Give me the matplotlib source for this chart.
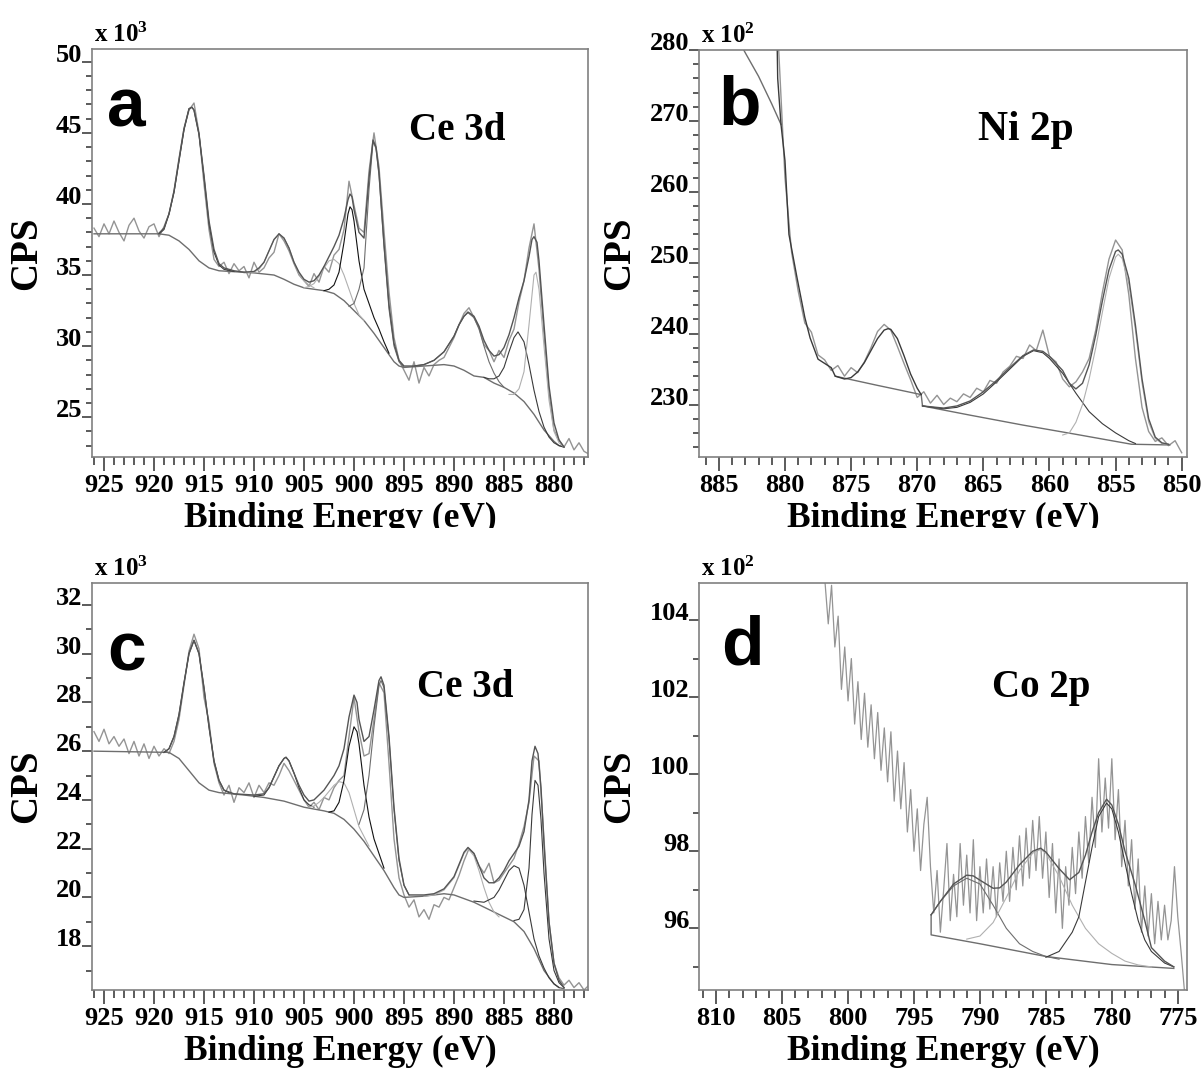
import numpy as np
import matplotlib
matplotlib.use("Agg")
import matplotlib.pyplot as plt
from matplotlib.patches import Rectangle
from matplotlib.ticker import MultipleLocator

plt.rcParams['font.family'] = ['Liberation Serif', 'DejaVu Serif']
plt.rcParams['font.weight'] = 'bold'
plt.rcParams['mathtext.fontset'] = 'custom'
plt.rcParams['mathtext.rm'] = 'Liberation Serif:bold'
plt.rcParams['mathtext.it'] = 'Liberation Serif:bold'

# ---------------- panel a : Ce 3d (x 10^3 CPS) ----------------
a_energy = np.arange(926.0, 876.4, -0.5)
a_raw = [38.3, 37.7, 38.6, 37.9, 38.8, 38.0, 37.4, 38.5, 39.0, 38.1,
         37.6, 38.4, 38.6, 37.7, 38.4, 39.3, 40.9, 43.2, 45.3, 46.6,
         47.1, 45.0, 41.4, 38.2, 36.1, 35.6, 35.9, 35.1, 35.8, 35.3,
         35.6, 34.8, 35.9, 35.2, 35.5, 36.2, 36.6, 37.9, 37.4, 36.7,
         35.8, 35.0, 34.6, 34.2, 35.1, 34.5, 35.6, 35.2, 36.4, 36.8,
         38.2, 41.6, 39.9, 38.3, 38.0, 42.3, 45.0, 42.6, 38.1, 33.8,
         30.6, 29.0, 28.3, 27.6, 28.9, 27.4, 28.5, 27.9, 28.7, 29.0,
         29.2, 29.9, 30.6, 31.5, 32.3, 32.7, 32.0, 31.3, 30.1, 29.7,
         28.9, 29.7, 29.2, 30.4, 31.2, 33.1, 34.6, 36.9, 38.6, 35.4,
         30.8, 26.7, 24.1, 23.4, 22.9, 23.5, 22.7, 23.2, 22.6, 22.4]

a_bg_e = [926.0, 919.5, 918.5, 917.5, 916.5, 915.5, 914.5, 913.5, 910.0, 908.0,
          907.0, 906.0, 905.0, 904.0, 903.0, 902.0, 901.0, 900.0, 899.0, 898.0,
          897.0, 896.0, 895.5, 895.0, 893.0, 891.0, 890.0, 889.0, 888.0, 887.0,
          886.0, 885.0, 884.0, 883.0, 882.0, 881.0, 880.0, 879.5, 879.0]
a_bg_y = [37.9, 37.9, 37.8, 37.4, 36.8, 36.0, 35.5, 35.3, 35.15, 35.0,
          34.7, 34.35, 34.1, 34.0, 33.9, 33.7, 33.2, 32.5, 31.8, 30.9,
          29.9, 28.9, 28.6, 28.5, 28.6, 28.7, 28.6, 28.3, 27.9, 27.8,
          27.4, 27.1, 26.7, 26.1, 25.2, 24.1, 23.3, 23.0, 22.9]

a_env_e = [919.5, 919.0, 918.5, 918.0, 917.5, 917.0, 916.5, 916.2, 916.0, 915.5,
           915.0, 914.5, 914.0, 913.5, 913.0, 912.0, 911.0, 910.0, 909.5, 909.0,
           908.5, 908.0, 907.5, 907.0, 906.5, 906.0, 905.5, 905.0, 904.5, 904.0,
           903.5, 903.0, 902.5, 902.0, 901.5, 901.0, 900.6, 900.4, 900.2, 900.0,
           899.5, 899.0, 898.5, 898.1, 897.8, 897.5, 897.0, 896.5, 896.0, 895.5,
           895.0, 894.0, 893.0, 892.0, 891.0, 890.0, 889.5, 889.0, 888.6, 888.0,
           887.5, 887.0, 886.5, 886.0, 885.5, 885.0, 884.5, 884.0, 883.5, 883.0,
           882.5, 882.2, 882.0, 881.7, 881.5, 881.0, 880.5, 880.0, 879.5, 879.0]
a_env_y = [37.95, 38.3, 39.3, 40.9, 43.1, 45.3, 46.7, 46.8, 46.6, 44.9,
           42.0, 38.8, 36.8, 35.8, 35.5, 35.3, 35.2, 35.25, 35.5, 35.9,
           36.7, 37.5, 37.9, 37.6, 36.9, 35.9, 35.2, 34.7, 34.5, 34.6,
           35.0, 35.6, 36.3, 37.0, 37.8, 39.0, 40.3, 40.7, 40.5, 39.6,
           38.0, 37.6, 41.8, 44.5, 44.0, 42.2, 37.2, 32.9, 30.2, 29.0,
           28.6, 28.6, 28.7, 29.0, 29.6, 30.7, 31.5, 32.1, 32.4, 32.1,
           31.4, 30.4, 29.7, 29.3, 29.4, 29.9, 30.8, 32.0, 33.4, 34.6,
           36.3, 37.5, 37.7, 37.3, 36.0, 31.5, 27.2, 24.6, 23.4, 22.9]

a_pk1_e = [919.5, 919.0, 918.5, 918.0, 917.5, 917.0, 916.5, 916.2, 916.0, 915.5,
           915.0, 914.5, 914.0, 913.5, 913.0, 912.0]
a_pk1_y = [37.9, 38.2, 39.3, 40.8, 43.0, 45.2, 46.7, 46.8, 46.6, 44.9,
           41.9, 38.6, 36.6, 35.7, 35.4, 35.25]
a_pk2_e = [911.0, 910.0, 909.5, 909.0, 908.5, 908.0, 907.5, 907.0, 906.5, 906.0,
           905.5, 905.0, 904.5, 904.0]
a_pk2_y = [35.15, 35.2, 35.4, 35.9, 36.7, 37.5, 37.85, 37.6, 36.9, 35.9,
           35.1, 34.6, 34.3, 34.1]
a_pk3_e = [905.0, 904.5, 904.0, 903.5, 903.0, 902.5, 902.0, 901.5, 901.0, 900.5,
           900.0, 899.5, 899.0]
a_pk3_y = [34.1, 34.2, 34.4, 34.9, 35.5, 36.0, 36.1, 35.8, 35.0, 34.0,
           33.0, 32.2, 31.8]
a_pk4_e = [903.0, 902.5, 902.0, 901.5, 901.0, 900.6, 900.4, 900.2, 900.0, 899.5,
           899.0, 898.5, 898.0, 897.5, 897.0, 896.5]
a_pk4_y = [33.9, 34.0, 34.3, 35.2, 37.3, 39.3, 39.8, 39.6, 38.8, 36.0,
           34.0, 33.0, 32.0, 31.2, 30.3, 29.5]
a_pk5_e = [900.5, 900.0, 899.5, 899.0, 898.5, 898.1, 897.8, 897.5, 897.0, 896.5,
           896.0, 895.5, 895.0]
a_pk5_y = [32.8, 33.0, 34.0, 35.5, 41.0, 44.4, 43.9, 42.0, 37.0, 32.6,
           30.0, 28.9, 28.5]
a_pk6_e = [894.0, 893.0, 892.0, 891.0, 890.0, 889.5, 889.0, 888.6, 888.0, 887.5,
           887.0, 886.5, 886.0, 885.5, 885.0]
a_pk6_y = [28.6, 28.7, 29.0, 29.6, 30.7, 31.5, 32.1, 32.35, 32.0, 31.2,
           30.0, 28.9, 28.1, 27.5, 27.1]
a_pk7_e = [887.0, 886.5, 886.0, 885.5, 885.0, 884.5, 884.0, 883.6, 883.0, 882.5,
           882.0, 881.5, 881.0, 880.5, 880.0, 879.5, 879.0]
a_pk7_y = [27.8, 27.7, 27.7, 27.9, 28.5, 29.6, 30.6, 31.0, 30.3, 28.7,
           26.9, 25.4, 24.3, 23.6, 23.2, 23.0, 22.9]
a_pk8_e = [884.5, 884.0, 883.5, 883.0, 882.5, 882.0, 881.8, 881.5, 881.0, 880.5,
           880.0, 879.5, 879.0]
a_pk8_y = [26.6, 26.6, 27.0, 28.2, 31.5, 35.0, 35.2, 34.0, 30.0, 26.2,
           24.0, 23.2, 22.9]

# ---------------- panel b : Ni 2p (x 10^2 CPS) ----------------
b_energy = np.arange(881.0, 849.9, -0.5)
b_raw = [300.0, 281.0, 262.0, 251.5, 246.0, 241.5, 240.2, 237.0, 236.3, 234.8,
         235.5, 234.0, 235.2, 234.5, 236.0, 238.0, 240.3, 241.3, 240.5, 238.2,
         235.8, 233.5, 231.0, 231.8, 230.2, 231.3, 230.0, 230.9, 230.4, 231.5,
         231.0, 232.3, 231.8, 233.4, 233.0, 234.6, 235.4, 236.8, 236.5, 238.4,
         237.6, 240.5, 236.8, 236.0, 233.6, 232.5, 233.2, 234.6, 236.5, 240.5,
         245.8, 250.5, 253.2, 251.8, 245.5, 236.5, 229.6, 226.2, 224.8, 225.3,
         224.2, 224.9, 223.2]

b_tail_e = [883.7, 883.0, 882.0, 881.0, 880.3]
b_tail_y = [282.0, 279.6, 276.3, 272.4, 269.5]

b_env1_e = [880.6, 880.55, 880.3, 880.0, 879.7, 879.1, 878.5, 878.1, 877.5, 876.5,
            876.2, 875.5, 875.0, 874.5, 874.0, 873.5, 873.0, 872.5, 872.2, 872.0,
            871.5, 871.0, 870.5, 870.0, 869.7]
b_env1_y = [282.0, 276.0, 269.5, 264.4, 254.0, 248.0, 242.3, 239.4, 236.4, 235.2,
            234.0, 233.6, 233.8, 234.6, 235.9, 237.6, 239.3, 240.5, 240.7, 240.6,
            239.3, 236.9, 234.3, 232.3, 231.4]
b_bg1_e = [876.2, 873.0, 869.7]
b_bg1_y = [234.0, 232.7, 231.4]
b_bg2_e = [869.7, 869.6, 866.0, 862.0, 858.0, 855.0, 853.8, 850.9]
b_bg2_y = [231.4, 229.8, 228.5, 227.1, 225.8, 224.8, 224.4, 224.3]

b_pk1_e = [869.6, 868.0, 867.0, 866.0, 865.0, 864.0, 863.0, 862.0, 861.2, 860.5,
           860.0, 859.0, 858.0, 857.0, 856.0, 855.0, 854.0, 853.5]
b_pk1_y = [229.8, 229.4, 229.6, 230.3, 231.5, 233.2, 235.0, 236.8, 237.6, 237.3,
           236.5, 234.4, 231.6, 229.0, 227.3, 226.0, 224.9, 224.5]
b_pk2_e = [859.0, 858.5, 858.0, 857.5, 857.0, 856.5, 856.0, 855.5, 855.0, 854.8,
           854.5, 854.0, 853.5, 853.0, 852.5, 852.0, 851.5, 851.0]
b_pk2_y = [225.7, 226.0, 227.5, 230.0, 233.6, 238.0, 243.0, 247.8, 250.8, 251.2,
           250.6, 247.0, 240.5, 233.0, 227.5, 225.2, 224.5, 224.4]
b_env2_e = [869.6, 868.0, 867.0, 866.0, 865.0, 864.0, 863.0, 862.0, 861.2, 860.5,
            860.0, 859.0, 858.5, 858.0, 857.5, 857.0, 856.5, 856.0, 855.5, 855.0,
            854.8, 854.5, 854.0, 853.5, 853.0, 852.5, 852.0, 851.5, 851.0]
b_env2_y = [229.8, 229.5, 229.8, 230.5, 231.8, 233.4, 235.2, 236.9, 237.7, 237.5,
            236.8, 234.8, 233.0, 232.2, 233.0, 235.6, 239.8, 244.6, 249.0, 251.6,
            251.8, 251.2, 247.8, 241.2, 233.6, 228.0, 225.4, 224.6, 224.4]

# ---------------- panel c : Ce 3d (x 10^3 CPS) ----------------
c_energy = np.arange(926.0, 876.4, -0.5)
c_raw = [26.8, 26.4, 26.9, 26.3, 26.6, 26.2, 26.5, 25.9, 26.4, 25.8,
         26.3, 25.7, 26.2, 25.8, 26.1, 25.9, 26.4, 27.3, 28.7, 30.1,
         30.8, 30.2, 28.2, 27.2, 25.5, 24.7, 24.2, 24.6, 23.9, 24.5,
         24.3, 24.7, 24.1, 24.6, 24.3, 24.7, 24.6, 25.0, 25.5, 25.2,
         24.8, 24.4, 24.0, 23.7, 23.9, 23.6, 24.1, 24.0, 24.5, 24.8,
         25.0, 26.6, 28.2, 26.8, 25.8, 25.9, 27.3, 28.8, 28.4, 25.5,
         22.4, 20.8, 20.1, 19.6, 19.9, 19.2, 19.5, 19.1, 19.7, 19.6,
         20.0, 19.9, 20.4, 20.9, 21.5, 22.0, 21.8, 21.3, 21.0, 21.4,
         20.6, 20.7, 21.0, 21.3, 21.6, 22.2, 22.9, 23.9, 25.8, 25.6,
         22.4, 19.0, 17.3, 16.7, 16.4, 16.6, 16.3, 16.5, 16.2, 16.4]

c_bg_e = [926.0, 918.5, 917.5, 916.5, 915.5, 914.5, 913.5, 911.0, 909.0, 907.0,
          905.0, 903.0, 902.0, 901.0, 900.0, 899.0, 898.0, 897.0, 896.0, 895.5,
          895.0, 893.0, 891.0, 890.0, 889.0, 888.0, 887.0, 886.0, 885.0, 884.0,
          883.0, 882.0, 881.0, 880.0, 879.5, 879.0]
c_bg_y = [26.0, 25.95, 25.7, 25.2, 24.7, 24.4, 24.3, 24.2, 24.1, 23.95,
          23.7, 23.55, 23.45, 23.2, 22.8, 22.3, 21.7, 21.1, 20.4, 20.1,
          20.0, 20.05, 20.15, 20.1, 19.95, 19.8, 19.6, 19.4, 19.2, 19.0,
          18.6, 17.9, 17.0, 16.45, 16.3, 16.25]

c_env_e = [919.0, 918.5, 918.0, 917.5, 917.0, 916.5, 916.0, 915.5, 915.0, 914.5,
           914.0, 913.5, 913.0, 912.0, 910.0, 909.0, 908.5, 908.0, 907.5, 907.0,
           906.8, 906.5, 906.0, 905.5, 905.0, 904.5, 904.0, 903.5, 903.0, 902.5,
           902.0, 901.5, 901.0, 900.5, 900.0, 899.7, 899.5, 899.0, 898.5, 898.0,
           897.5, 897.3, 897.0, 896.5, 896.0, 895.5, 895.0, 894.5, 893.0, 892.0,
           891.0, 890.0, 889.5, 889.0, 888.6, 888.0, 887.5, 887.0, 886.5, 886.0,
           885.5, 885.0, 884.5, 884.0, 883.5, 883.0, 882.5, 882.2, 881.9, 881.6,
           881.3, 881.0, 880.5, 880.0, 879.5, 879.0]
c_env_y = [25.95, 26.1, 26.6, 27.5, 28.8, 30.0, 30.55, 30.0, 28.6, 27.0,
           25.6, 24.8, 24.4, 24.25, 24.2, 24.25, 24.5, 24.95, 25.4, 25.7,
           25.75, 25.6, 25.1, 24.6, 24.2, 23.95, 24.0, 24.2, 24.4, 24.7,
           25.0, 25.4, 26.1, 27.4, 28.3, 28.0, 27.3, 26.4, 26.6, 27.7,
           28.9, 29.05, 28.7, 26.6, 23.7, 21.6, 20.5, 20.1, 20.1, 20.15,
           20.35, 20.85, 21.35, 21.85, 22.05, 21.8, 21.3, 20.8, 20.6, 20.6,
           20.8, 21.1, 21.5, 21.8, 22.1, 22.7, 24.0, 25.6, 26.2, 25.9,
           24.5, 22.2, 19.0, 17.3, 16.6, 16.3]

c_pk1_e = [919.0, 918.5, 918.0, 917.5, 917.0, 916.5, 916.0, 915.5, 915.0, 914.5,
           914.0, 913.5, 913.0, 912.5]
c_pk1_y = [25.95, 26.1, 26.6, 27.5, 28.8, 30.0, 30.55, 30.0, 28.6, 27.0,
           25.6, 24.8, 24.4, 24.3]
c_pk2_e = [910.0, 909.0, 908.5, 908.0, 907.5, 907.0, 906.8, 906.5, 906.0, 905.5,
           905.0, 904.5, 904.0]
c_pk2_y = [24.15, 24.2, 24.5, 24.95, 25.4, 25.7, 25.75, 25.6, 25.1, 24.5,
           24.0, 23.8, 23.7]
c_pk3_e = [904.5, 904.0, 903.5, 903.0, 902.5, 902.0, 901.5, 901.0, 900.5, 900.0,
           899.5, 899.0, 898.5]
c_pk3_y = [23.7, 23.75, 23.9, 24.1, 24.35, 24.6, 24.75, 24.7, 24.3, 23.6,
           22.9, 22.5, 22.1]
c_pk4_e = [902.5, 902.0, 901.5, 901.0, 900.5, 900.0, 899.7, 899.5, 899.0, 898.5,
           898.0, 897.5, 897.0]
c_pk4_y = [23.5, 23.55, 23.9, 24.8, 26.2, 27.0, 26.8, 26.3, 24.6, 23.3,
           22.4, 21.8, 21.2]
c_pk5_e = [899.5, 899.0, 898.5, 898.0, 897.5, 897.3, 897.0, 896.5, 896.0, 895.5,
           895.0, 894.5]
c_pk5_y = [23.0, 23.6, 25.0, 27.0, 28.7, 28.9, 28.6, 26.5, 23.6, 21.5,
           20.5, 20.1]
c_pk6_e = [893.0, 892.0, 891.0, 890.0, 889.5, 889.0, 888.6, 888.0, 887.5, 887.0,
           886.5, 886.0, 885.5]
c_pk6_y = [20.05, 20.1, 20.3, 20.8, 21.3, 21.8, 22.0, 21.7, 21.1, 20.4,
           19.8, 19.4, 19.2]
c_pk7_e = [888.0, 887.0, 886.0, 885.5, 885.0, 884.5, 884.0, 883.5, 883.0, 882.5,
           882.0, 881.5, 881.0, 880.5, 880.0, 879.5]
c_pk7_y = [19.85, 19.8, 20.0, 20.3, 20.7, 21.1, 21.3, 21.2, 20.5, 19.4,
           18.3, 17.6, 17.1, 16.7, 16.45, 16.3]
c_pk8_e = [884.0, 883.5, 883.0, 882.5, 882.2, 881.9, 881.6, 881.3, 881.0, 880.5,
           880.0, 879.5, 879.0]
c_pk8_y = [19.05, 19.1, 19.5, 21.2, 23.4, 24.8, 24.6, 23.2, 21.0, 18.3,
           17.0, 16.5, 16.3]

# ---------------- panel d : Co 2p (x 10^2 CPS) ----------------
d_energy = np.arange(801.75, 774.4, -0.25)
d_raw = [105.0, 103.9, 104.9, 103.3, 104.1, 102.2, 103.3, 101.9,
         103.0, 101.3, 102.4, 100.9, 102.1, 100.7, 101.8, 100.4,
         101.6, 100.1, 101.2, 99.8, 101.1, 99.3, 100.6, 99.1,
         100.3, 98.5, 99.6, 98.0, 99.1, 97.5, 98.7, 99.4,
         97.6, 96.4, 97.5, 95.9, 97.0, 98.2, 96.2, 97.4,
         96.3, 98.2, 96.6, 97.9, 96.4, 98.3, 96.2, 97.6,
         96.4, 97.8, 96.5, 97.6, 96.3, 97.7, 96.7, 98.0,
         96.7, 98.1, 97.0, 98.4, 97.1, 98.6, 97.3, 98.8,
         97.5, 98.9, 97.3, 98.5, 96.8, 98.2, 96.4, 97.8,
         96.0, 97.6, 96.6, 98.1, 96.9, 98.5, 97.3, 98.9,
         97.7, 99.4, 98.1, 100.4, 98.5, 99.9, 98.6, 100.4,
         98.3, 99.6, 97.6, 98.8, 97.1, 98.3, 96.5, 97.8,
         95.9, 97.1, 95.8, 96.9, 95.6, 96.7, 95.7, 96.6,
         95.7, 96.2, 97.6, 96.3, 95.4, 94.4]

d_bg_e = [793.7, 793.7, 790.0, 785.0, 780.0, 775.3]
d_bg_y = [96.35, 95.83, 95.6, 95.27, 95.06, 94.96]
d_env_e = [793.7, 793.0, 792.0, 791.0, 790.5, 790.0, 789.0, 788.5, 788.0, 787.0,
           786.0, 785.4, 785.0, 784.0, 783.2, 782.5, 782.0, 781.5, 781.0, 780.4,
           780.0, 779.5, 779.0, 778.2, 777.5, 777.0, 776.0, 775.3]
d_env_y = [96.35, 96.7, 97.15, 97.38, 97.36, 97.25, 97.04, 97.05, 97.2, 97.65,
           98.0, 98.08, 97.98, 97.55, 97.26, 97.45, 97.9, 98.5, 99.0, 99.35,
           99.2, 98.7, 98.0, 97.1, 96.2, 95.5, 95.15, 95.0]
d_pk1_e = [793.7, 793.0, 792.0, 791.0, 790.0, 789.0, 788.0, 787.0, 786.0, 785.0, 784.0]
d_pk1_y = [96.35, 96.7, 97.1, 97.3, 97.15, 96.6, 96.0, 95.6, 95.4, 95.27, 95.2]
d_pk2_e = [791.0, 790.0, 789.0, 788.0, 787.0, 786.0, 785.4, 785.0, 784.0, 783.0,
           782.0, 781.0, 780.0, 779.0, 778.0, 777.0]
d_pk2_y = [95.72, 95.8, 96.15, 96.8, 97.5, 97.95, 98.05, 97.95, 97.35, 96.6,
           96.0, 95.6, 95.35, 95.15, 95.05, 95.0]
d_pk3_e = [785.0, 784.0, 783.0, 782.5, 782.0, 781.5, 781.0, 780.4, 780.0, 779.5,
           779.0, 778.5, 778.0, 777.5, 777.0, 776.0, 775.3]
d_pk3_y = [95.25, 95.4, 95.9, 96.3, 97.2, 98.1, 98.9, 99.25, 99.1, 98.5,
           97.7, 96.9, 96.2, 95.7, 95.4, 95.1, 95.0]

RAW = '#949494'
DARK = '#3a3a3a'
MID = '#6e6e6e'
LIGHT = '#b0b0b0'
W = 1203
H = 1075

fig = plt.figure(figsize=(12.03, 10.75), dpi=100)


def make_axes(left, top, right, bottom):
    return fig.add_axes([left / W, 1 - bottom / H, (right - left) / W, (bottom - top) / H])


def style(ax, xlim, ylim, ymaj, ymin, power, letter, lx, ly, elem, ex, ey, esize=28):
    ax.set_xlim(*xlim)
    ax.set_ylim(*ylim)
    ax.xaxis.set_major_locator(MultipleLocator(5))
    ax.xaxis.set_minor_locator(MultipleLocator(1))
    ax.yaxis.set_major_locator(MultipleLocator(ymaj))
    ax.yaxis.set_minor_locator(MultipleLocator(ymin))
    for s in ax.spines.values():
        s.set_color('#808080')
        s.set_linewidth(1.2)
    ax.tick_params(axis='x', which='major', direction='out', length=10, width=1.2,
                   color='#404040', labelsize=19, pad=2)
    ax.tick_params(axis='x', which='minor', direction='out', length=5.5, width=1.2,
                   color='#404040')
    ax.tick_params(axis='y', which='major', direction='out', length=7, width=1.2,
                   color='#404040', labelsize=19, pad=0)
    ax.tick_params(axis='y', which='minor', direction='out', length=4, width=1.2,
                   color='#404040')
    for t in ax.get_yticklabels():
        t.set_verticalalignment('baseline')
    ax.set_ylabel('CPS', fontsize=28, fontweight='bold', labelpad=8)
    ax.set_xlabel('Binding Energy (eV)', fontsize=25.5, fontweight='bold', labelpad=4)
    ax.text(0.005, 1.004, r'x 10$^{%d}$' % power, transform=ax.transAxes,
            fontsize=18, ha='left', va='bottom')
    ax.text(lx, ly, letter, transform=ax.transAxes, fontsize=50,
            family='Liberation Sans', fontweight='bold', ha='left', va='baseline')
    ax.text(ex, ey, elem, transform=ax.transAxes, fontsize=esize,
            fontweight='bold', ha='left', va='baseline')


# panel a
ax = make_axes(92, 49, 588, 457)
ax.plot(a_energy, a_raw, color=RAW, lw=1.0)
ax.plot(a_bg_e, a_bg_y, color=MID, lw=1.0)
ax.plot(a_pk1_e, a_pk1_y, color=DARK, lw=0.8)
ax.plot(a_pk2_e, a_pk2_y, color=LIGHT, lw=0.8)
ax.plot(a_pk3_e, a_pk3_y, color=LIGHT, lw=0.8)
ax.plot(a_pk4_e, a_pk4_y, color='#111111', lw=0.8)
ax.plot(a_pk5_e, a_pk5_y, color=MID, lw=0.8)
ax.plot(a_pk6_e, a_pk6_y, color=MID, lw=0.8)
ax.plot(a_pk7_e, a_pk7_y, color=DARK, lw=0.8)
ax.plot(a_pk8_e, a_pk8_y, color=LIGHT, lw=0.8)
ax.plot(a_env_e, a_env_y, color='#555555', lw=1.0)
style(ax, (926.2, 876.6), (22.2, 50.9), 5, 1, 3, 'a', 0.03, 0.81, 'Ce 3d', 0.64, 0.777)

# panel b
ax = make_axes(699, 50, 1187, 457)
ax.plot(b_energy, b_raw, color=RAW, lw=1.0)
ax.plot(b_tail_e, b_tail_y, color=MID, lw=1.0)
ax.plot(b_bg1_e, b_bg1_y, color=MID, lw=1.0)
ax.plot(b_bg2_e, b_bg2_y, color=MID, lw=1.0)
ax.plot(b_pk1_e, b_pk1_y, color=DARK, lw=0.8)
ax.plot(b_pk2_e, b_pk2_y, color=LIGHT, lw=0.8)
ax.plot(b_env1_e, b_env1_y, color=DARK, lw=1.0)
ax.plot(b_env2_e, b_env2_y, color='#555555', lw=1.0)
style(ax, (886.5, 849.6), (222.6, 280), 10, 2, 2, 'b', 0.04, 0.816, 'Ni 2p', 0.571, 0.779, 30)

# panel c
ax = make_axes(92, 583, 588, 990)
ax.plot(c_energy, c_raw, color=RAW, lw=1.0)
ax.plot(c_bg_e, c_bg_y, color=MID, lw=1.0)
ax.plot(c_pk1_e, c_pk1_y, color=DARK, lw=0.8)
ax.plot(c_pk2_e, c_pk2_y, color=DARK, lw=0.8)
ax.plot(c_pk3_e, c_pk3_y, color=LIGHT, lw=0.8)
ax.plot(c_pk4_e, c_pk4_y, color='#111111', lw=0.8)
ax.plot(c_pk5_e, c_pk5_y, color=MID, lw=0.8)
ax.plot(c_pk6_e, c_pk6_y, color=LIGHT, lw=0.8)
ax.plot(c_pk7_e, c_pk7_y, color=DARK, lw=0.8)
ax.plot(c_pk8_e, c_pk8_y, color=DARK, lw=0.8)
ax.plot(c_env_e, c_env_y, color='#555555', lw=1.0)
style(ax, (926.2, 876.6), (16.2, 32.9), 2, 1, 3, 'c', 0.03, 0.786, 'Ce 3d', 0.655, 0.72)

# panel d
ax = make_axes(699, 583, 1187, 990)
ax.plot(d_energy, d_raw, color=RAW, lw=0.9)
ax.plot(d_bg_e, d_bg_y, color=MID, lw=1.0)
ax.plot(d_pk1_e, d_pk1_y, color=MID, lw=0.8)
ax.plot(d_pk2_e, d_pk2_y, color=LIGHT, lw=0.8)
ax.plot(d_pk3_e, d_pk3_y, color=DARK, lw=0.8)
ax.plot(d_env_e, d_env_y, color='#555555', lw=1.0)
style(ax, (811.3, 774.3), (94.4, 104.96), 2, 1, 2, 'd', 0.045, 0.80, 'Co 2p', 0.6, 0.72)

# the top row labels are cut off in the original figure
fig.add_artist(Rectangle((0, 1 - 550 / H), 1, 22 / H, transform=fig.transFigure,
                         facecolor='white', edgecolor='none', zorder=10))

fig.savefig('out.png', dpi=100)
